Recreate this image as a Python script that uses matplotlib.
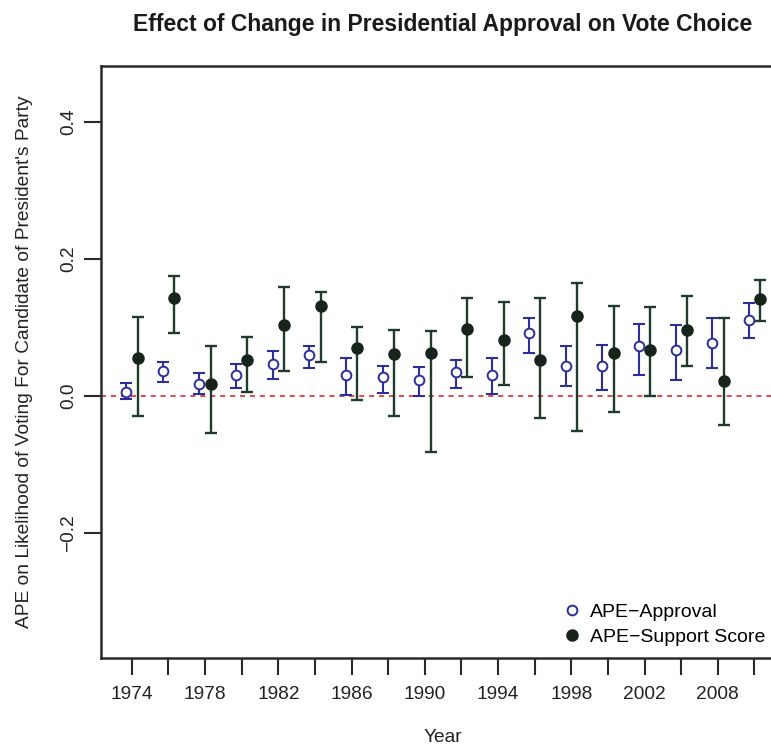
import matplotlib
matplotlib.use("Agg")
import matplotlib.pyplot as plt
import numpy as np

plt.rcParams['font.family'] = ['Liberation Sans', 'DejaVu Sans']

# ---- data ----
tick_labels = ["1974", "1978", "1982", "1986", "1990", "1994", "1998", "2002", "2008"]
n_elections = 18

approval = [0.006, 0.036, 0.017, 0.031, 0.046, 0.059, 0.031, 0.028, 0.023,
            0.034, 0.031, 0.091, 0.043, 0.043, 0.072, 0.067, 0.077, 0.110]
approval_lo = [-0.005, 0.020, 0.003, 0.012, 0.024, 0.040, 0.001, 0.004, -0.001,
               0.012, 0.003, 0.062, 0.014, 0.009, 0.030, 0.023, 0.041, 0.084]
approval_hi = [0.018, 0.050, 0.033, 0.047, 0.065, 0.072, 0.055, 0.044, 0.042,
               0.052, 0.055, 0.114, 0.072, 0.074, 0.105, 0.104, 0.113, 0.136]

support = [0.055, 0.142, 0.017, 0.052, 0.103, 0.131, 0.069, 0.061, 0.062,
           0.097, 0.082, 0.052, 0.117, 0.062, 0.067, 0.096, 0.021, 0.141]
support_lo = [-0.030, 0.091, -0.054, 0.006, 0.036, 0.050, -0.006, -0.029, -0.082,
              0.027, 0.016, -0.033, -0.052, -0.023, -0.001, 0.043, -0.043, 0.109]
support_hi = [0.115, 0.175, 0.073, 0.086, 0.159, 0.152, 0.100, 0.096, 0.094,
              0.142, 0.137, 0.143, 0.165, 0.131, 0.130, 0.145, 0.113, 0.169]

# ---- styling ----
blue = "#2b2e9c"
green = "#1f3b2b"
dot = "#16241b"
red = "#e2393f"
spine_col = "#2a2a2a"

W, H = 771, 750
fig = plt.figure(figsize=(W / 100, H / 100), dpi=100)
ax = fig.add_axes([101 / W, 1 - 657.5 / H, 684.3 / W, (657.5 - 65.5) / H])

x = np.arange(1, n_elections + 1)
off = 0.155
xa = x - off
xs = x + off

a = np.array(approval); alo = np.array(approval_lo); ahi = np.array(approval_hi)
s = np.array(support); slo = np.array(support_lo); shi = np.array(support_hi)

ax.axhline(0, color=red, lw=1.3, ls=(0, (2.8, 2.7)), zorder=1)

ax.errorbar(xa, a, yerr=[a - alo, ahi - a], fmt='none', ecolor=blue,
            elinewidth=1.5, capsize=4, capthick=1.5, zorder=2)
ax.errorbar(xs, s, yerr=[s - slo, shi - s], fmt='none', ecolor=green,
            elinewidth=1.7, capsize=4, capthick=1.7, zorder=2)

ax.plot(xa, a, ls='none', marker='o', ms=7, mfc='white', mec=blue, mew=1.4,
        zorder=3, label="APE\u2212Approval")
ax.plot(xs, s, ls='none', marker='o', ms=8, mfc=dot, mec=dot, mew=1,
        zorder=3, label="APE\u2212Support Score")

ax.set_xlim(0.158, 18.842)
ax.set_ylim(-0.382, 0.482)

ax.set_xticks(x)
ax.set_xticklabels([tick_labels[i // 2] if i % 2 == 0 else "" for i in range(n_elections)])
ax.set_yticks([-0.2, 0.0, 0.2, 0.4])
ax.set_yticklabels(["\u22120.2", "0.0", "0.2", "0.4"])

for sp in ax.spines.values():
    sp.set_color(spine_col)
    sp.set_linewidth(1.8)

ax.tick_params(axis='both', direction='out', length=12, width=1.5,
               color=spine_col, labelsize=13.8, labelcolor='#222222')
ax.tick_params(axis='x', pad=8.5)
ax.tick_params(axis='y', pad=5)
for lab in ax.get_yticklabels():
    lab.set_rotation(90)
    lab.set_va('center')
    lab.set_ha('right')

fig.text(443 / W, 1 - 25 / H, "Effect of Change in Presidential Approval on Vote Choice",
         ha='center', va='center', fontsize=16.5, fontweight='bold', color='#1a1a1a')
fig.text(443 / W, 1 - 737 / H, "Year", ha='center', va='center', fontsize=13.8,
         color='#222222')
fig.text(25 / W, 1 - 362 / H, "APE on Likelihood of Voting For Candidate of President's Party",
         ha='center', va='center', rotation=90, fontsize=13.8, color='#222222')

leg = ax.legend(loc='upper left', bbox_to_anchor=(564 / W, 1 - 603 / H),
                bbox_transform=fig.transFigure, frameon=False, fontsize=14,
                handlelength=0.8, handletextpad=0.55, borderpad=0, borderaxespad=0,
                labelspacing=0.38)

fig.savefig("out.png", dpi=100)
